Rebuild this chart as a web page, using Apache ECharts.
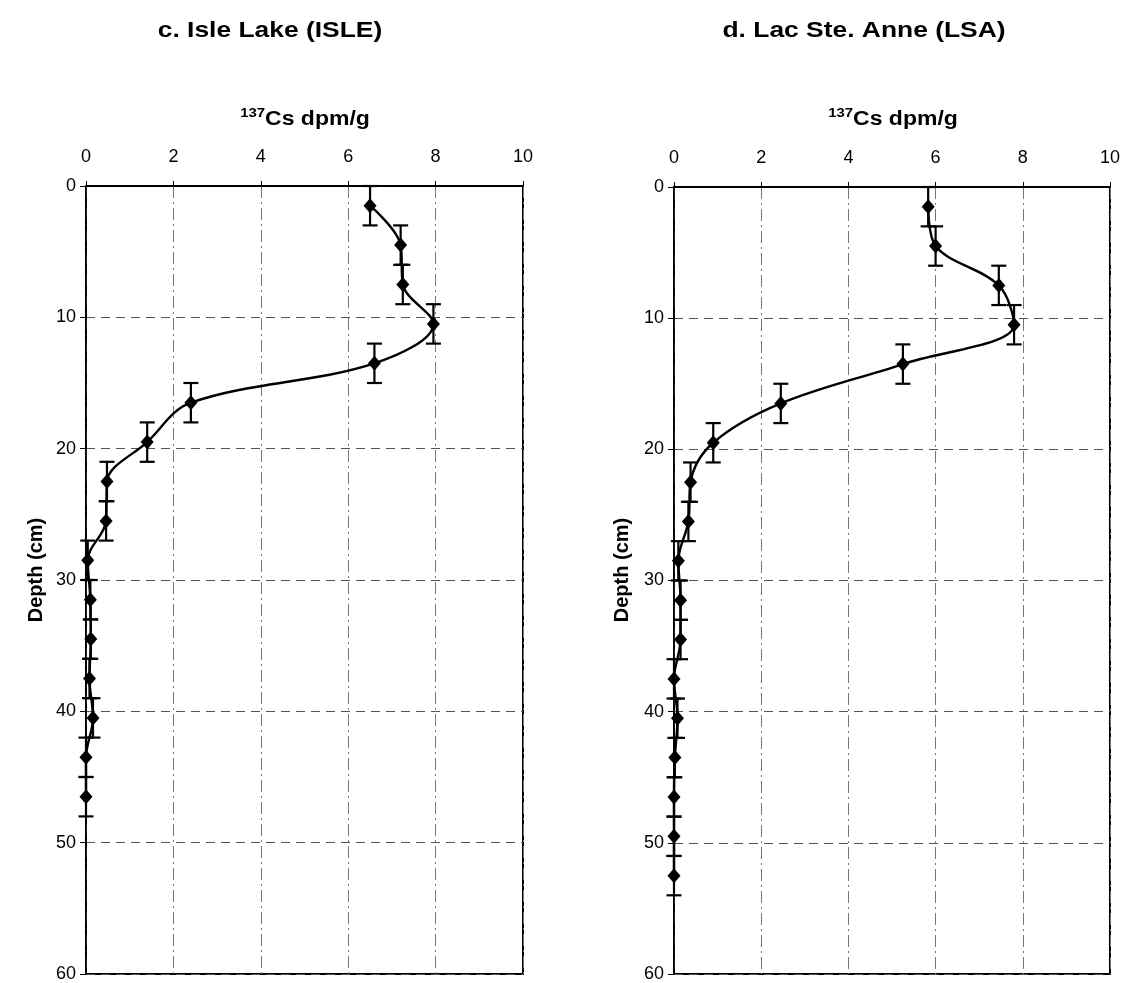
<!DOCTYPE html>
<html>
<head>
<meta charset="utf-8">
<script src="https://cdn.jsdelivr.net/npm/echarts@6/dist/echarts.min.js"></script>
<style>
  html, body { margin: 0; padding: 0; background: #fff; }
  #chart { width: 1123px; height: 983px; }
</style>
</head>
<body>
<div id="chart"></div>
<script>
// Panel titles and axis captions
const panelTitles = ['c. Isle Lake (ISLE)', 'd. Lac Ste. Anne (LSA)'];
const csCaption = ['137', 'Cs dpm/g'];
const depthCaption = 'Depth (cm)';

// Isle Lake core: slice mid-depth (cm), slice top/bottom (cm), 137Cs activity (dpm/g)
const isleDepth  = [1.5, 4.5, 7.5, 10.5, 13.5, 16.5, 19.5, 22.5, 25.5, 28.5, 31.5, 34.5, 37.5, 40.5, 43.5, 46.5];
const isleTop    = [0, 3, 6, 9, 12, 15, 18, 21, 24, 27, 30, 33, 36, 39, 42, 45];
const isleBottom = [3, 6, 9, 12, 15, 18, 21, 24, 27, 30, 33, 36, 39, 42, 45, 48];
const isleCs     = [6.5, 7.2, 7.25, 7.95, 6.6, 2.4, 1.4, 0.48, 0.46, 0.04, 0.1, 0.11, 0.08, 0.16, 0.0, 0.0];

// Lac Ste. Anne core
const lsaDepth  = [1.5, 4.5, 7.5, 10.5, 13.5, 16.5, 19.5, 22.5, 25.5, 28.5, 31.5, 34.5, 37.5, 40.5, 43.5, 46.5, 49.5, 52.5];
const lsaTop    = [0, 3, 6, 9, 12, 15, 18, 21, 24, 27, 30, 33, 36, 39, 42, 45, 48, 51];
const lsaBottom = [3, 6, 9, 12, 15, 18, 21, 24, 27, 30, 33, 36, 39, 42, 45, 48, 51, 54];
const lsaCs     = [5.83, 6.0, 7.45, 7.8, 5.25, 2.45, 0.9, 0.38, 0.33, 0.1, 0.15, 0.15, 0.0, 0.08, 0.02, 0.0, 0.0, 0.0];

// Axis ranges
const csRange = [0, 10];
const csStep = 2;
const depthRange = [0, 60];
const depthStep = 10;

const FONT = 'Liberation Sans';

function profilePoints(cs, depth) {
  return cs.map((v, i) => [v, depth[i]]);
}
function sliceBars(cs, top, bottom) {
  return cs.map((v, i) => [v, top[i], bottom[i]]);
}

// Vertical bar spanning the slice thickness with short caps
function sliceBarItem(params, api) {
  const x = api.value(0);
  const a = api.coord([x, api.value(1)]);
  const b = api.coord([x, api.value(2)]);
  const half = 7.5;
  const st = { stroke: '#000', lineWidth: 2.2 };
  return {
    type: 'group',
    children: [
      { type: 'line', shape: { x1: a[0], y1: a[1], x2: b[0], y2: b[1] }, style: st },
      { type: 'line', shape: { x1: a[0] - half, y1: a[1], x2: a[0] + half, y2: a[1] }, style: st },
      { type: 'line', shape: { x1: b[0] - half, y1: b[1], x2: b[0] + half, y2: b[1] }, style: st }
    ]
  };
}

const grids = [
  { left: 86, top: 186, width: 437, height: 791 },
  { left: 674, top: 187, width: 437, height: 790 }
];

function xAxisFor(i) {
  return {
    gridIndex: i, type: 'value', position: 'top',
    min: csRange[0], max: csRange[1], interval: csStep,
    axisLine: { show: true, onZero: false, lineStyle: { color: '#000', width: 2 } },
    axisTick: { show: true, inside: false, length: 5, lineStyle: { color: '#000', width: 1 } },
    axisLabel: { margin: 20, fontSize: 18, color: '#000', fontFamily: FONT },
    splitLine: { show: true, lineStyle: { color: '#777', width: 1, type: [12, 4, 2, 4] } }
  };
}

function yAxisFor(i) {
  return {
    gridIndex: i, type: 'value', inverse: true,
    min: depthRange[0], max: depthRange[1], interval: depthStep,
    axisLine: { show: true, onZero: false, lineStyle: { color: '#000', width: 1.5 } },
    axisTick: { show: true, length: 6, lineStyle: { color: '#000', width: 1 } },
    axisLabel: { margin: 10, fontSize: 18, color: '#000', fontFamily: FONT },
    splitLine: { show: true, lineStyle: { color: '#555', width: 1, type: [9, 6] } }
  };
}

function profileSeries(i, cs, depth, top, bottom) {
  return [
    {
      type: 'custom', xAxisIndex: i, yAxisIndex: i,
      renderItem: sliceBarItem,
      encode: { x: 0, y: [1, 2] },
      data: sliceBars(cs, top, bottom),
      z: 3, silent: true
    },
    {
      type: 'line', xAxisIndex: i, yAxisIndex: i,
      data: profilePoints(cs, depth),
      smooth: 0.35,
      symbol: 'diamond', symbolSize: [13, 15],
      lineStyle: { color: '#000', width: 2.4 },
      itemStyle: { color: '#000' },
      z: 4, silent: true
    }
  ];
}

// Captions: titles, activity caption above each top axis, depth caption beside each left axis
function captions() {
  const out = [];
  const titleX = [270, 864];
  const capX = [305, 893];
  const depthX = [36, 622];
  for (let i = 0; i < 2; i++) {
    out.push({
      type: 'text', x: titleX[i], y: 31, scaleX: 1.2, silent: true,
      style: { text: panelTitles[i], fontFamily: FONT, fontWeight: 'bold', fontSize: 22,
               fill: '#000', textAlign: 'center', textVerticalAlign: 'middle' }
    });
    out.push({
      type: 'text', x: capX[i], y: 119, scaleX: 1.15, silent: true,
      style: {
        text: '{sup|' + csCaption[0] + '}{n|' + csCaption[1] + '}',
        textAlign: 'center', textVerticalAlign: 'middle',
        rich: {
          sup: { fontFamily: FONT, fontWeight: 'bold', fontSize: 13, fill: '#000', verticalAlign: 'top', lineHeight: 12 },
          n: { fontFamily: FONT, fontWeight: 'bold', fontSize: 20, fill: '#000', lineHeight: 24 }
        }
      }
    });
    out.push({
      type: 'text', x: depthX[i], y: 570, rotation: Math.PI / 2, silent: true,
      style: { text: depthCaption, fontFamily: FONT, fontWeight: 'bold', fontSize: 20,
               fill: '#000', textAlign: 'center', textVerticalAlign: 'middle' }
    });
  }
  return out;
}

const chart = echarts.init(document.getElementById('chart'), null, { renderer: 'canvas' });
chart.setOption({
  animation: false,
  backgroundColor: '#fff',
  grid: grids.map(g => Object.assign({ show: true, borderColor: '#000', borderWidth: 2, backgroundColor: 'transparent' }, g)),
  xAxis: [xAxisFor(0), xAxisFor(1)],
  yAxis: [yAxisFor(0), yAxisFor(1)],
  series: [
    ...profileSeries(0, isleCs, isleDepth, isleTop, isleBottom),
    ...profileSeries(1, lsaCs, lsaDepth, lsaTop, lsaBottom)
  ],
  graphic: captions()
});
</script>
</body>
</html>
